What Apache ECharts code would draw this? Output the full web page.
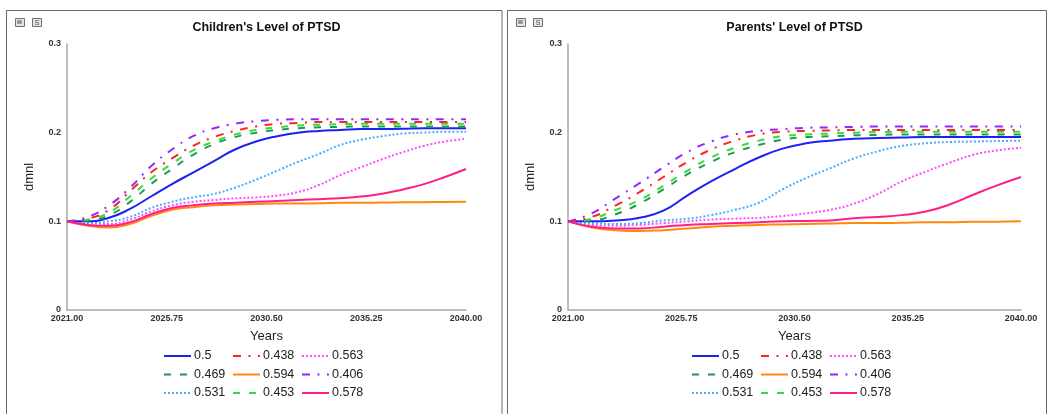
<!DOCTYPE html>
<html>
<head>
<meta charset="utf-8">
<script src="https://cdn.jsdelivr.net/npm/echarts@6/dist/echarts.min.js"></script>
<style>
html,body{margin:0;padding:0;background:#fff;}
#chart{width:1049px;height:414px;}
</style>
</head>
<body>
<div id="chart"></div>
<script>
// ---------- data ----------
const years = [2021,2022,2023,2024,2025,2026,2027,2028,2029,2030,2031,2032,2033,2034,2035,2036,2037,2038,2039,2040];
const xTickLabels = ['2021.00','2025.75','2030.50','2035.25','2040.00'];
const yTickLabels = ['0','0.1','0.2','0.3'];
const runNames = ['0.5','0.469','0.531','0.438','0.594','0.453','0.563','0.406','0.578'];

// Children's Level of PTSD
const child_05   = [0.100,0.100,0.104,0.114,0.128,0.142,0.155,0.168,0.181,0.190,0.196,0.200,0.202,0.203,0.204,0.204,0.2045,0.205,0.205,0.205];
const child_0469 = [0.100,0.101,0.107,0.122,0.142,0.159,0.175,0.187,0.195,0.200,0.203,0.205,0.206,0.2065,0.207,0.207,0.207,0.207,0.207,0.207];
const child_0531 = [0.100,0.0985,0.100,0.105,0.115,0.122,0.127,0.131,0.138,0.147,0.157,0.167,0.176,0.186,0.192,0.196,0.199,0.200,0.201,0.201];
const child_0438 = [0.100,0.103,0.113,0.134,0.155,0.171,0.185,0.195,0.202,0.207,0.210,0.211,0.212,0.212,0.212,0.212,0.212,0.212,0.212,0.212];
const child_0594 = [0.100,0.095,0.093,0.097,0.106,0.113,0.116,0.118,0.119,0.1195,0.120,0.120,0.1205,0.121,0.121,0.1212,0.1214,0.1216,0.1218,0.122];
const child_0453 = [0.100,0.102,0.110,0.128,0.148,0.165,0.180,0.190,0.198,0.203,0.206,0.208,0.209,0.2095,0.210,0.210,0.210,0.210,0.210,0.210];
const child_0563 = [0.100,0.098,0.097,0.102,0.111,0.118,0.122,0.124,0.126,0.127,0.129,0.133,0.141,0.152,0.161,0.170,0.178,0.185,0.190,0.193];
const child_0406 = [0.100,0.105,0.118,0.138,0.162,0.181,0.196,0.205,0.210,0.213,0.2145,0.215,0.215,0.215,0.215,0.215,0.215,0.215,0.215,0.215];
const child_0578 = [0.100,0.096,0.095,0.099,0.108,0.115,0.118,0.120,0.121,0.122,0.123,0.124,0.125,0.126,0.128,0.131,0.136,0.142,0.150,0.159];

// Parents' Level of PTSD
const parent_05   = [0.100,0.100,0.101,0.104,0.112,0.129,0.145,0.159,0.172,0.182,0.188,0.191,0.193,0.194,0.1945,0.195,0.195,0.195,0.195,0.195];
const parent_0469 = [0.100,0.101,0.108,0.120,0.136,0.153,0.167,0.178,0.186,0.192,0.195,0.196,0.197,0.1975,0.198,0.198,0.198,0.198,0.198,0.198];
const parent_0531 = [0.100,0.098,0.097,0.098,0.101,0.103,0.107,0.113,0.121,0.136,0.149,0.160,0.171,0.179,0.185,0.188,0.1895,0.190,0.1905,0.191];
const parent_0438 = [0.100,0.105,0.118,0.133,0.150,0.167,0.181,0.191,0.198,0.201,0.202,0.2025,0.203,0.203,0.203,0.203,0.203,0.203,0.203,0.203];
const parent_0594 = [0.100,0.093,0.090,0.089,0.090,0.092,0.094,0.095,0.096,0.0965,0.097,0.0975,0.098,0.098,0.0985,0.099,0.099,0.0995,0.0995,0.100];
const parent_0453 = [0.100,0.103,0.113,0.124,0.140,0.157,0.172,0.183,0.191,0.196,0.198,0.199,0.200,0.2005,0.201,0.201,0.201,0.201,0.201,0.201];
const parent_0563 = [0.100,0.096,0.095,0.096,0.098,0.100,0.102,0.103,0.104,0.106,0.109,0.113,0.120,0.131,0.145,0.156,0.166,0.175,0.180,0.183];
const parent_0406 = [0.100,0.109,0.126,0.143,0.161,0.178,0.190,0.198,0.202,0.204,0.2055,0.206,0.2065,0.207,0.207,0.207,0.207,0.207,0.207,0.207];
const parent_0578 = [0.100,0.094,0.092,0.092,0.094,0.096,0.097,0.098,0.099,0.100,0.1005,0.101,0.1035,0.105,0.107,0.111,0.119,0.130,0.1405,0.150];

// ---------- build ----------
const childData = {'0.5':child_05,'0.469':child_0469,'0.531':child_0531,'0.438':child_0438,'0.594':child_0594,'0.453':child_0453,'0.563':child_0563,'0.406':child_0406,'0.578':child_0578};
const parentData = {'0.5':parent_05,'0.469':parent_0469,'0.531':parent_0531,'0.438':parent_0438,'0.594':parent_0594,'0.453':parent_0453,'0.563':parent_0563,'0.406':parent_0406,'0.578':parent_0578};

const FONT = '"Liberation Sans", Arial, sans-serif';
const styles = {
  '0.5':   {color:'#1e22f0', type:'solid'},
  '0.469': {color:'#1f9a55', type:[7,9]},
  '0.531': {color:'#4aaeff', type:[2,2]},
  '0.438': {color:'#ff2222', type:[8,7.5,2,7.5]},
  '0.594': {color:'#ff8a10', type:'solid'},
  '0.453': {color:'#36dd36', type:[7,9]},
  '0.563': {color:'#ff4dff', type:[2,2]},
  '0.406': {color:'#9626ff', type:[8,7.5,2,7.5]},
  '0.578': {color:'#ff1f86', type:'solid'}
};
const drawOrder = ['0.594','0.563','0.531','0.5','0.469','0.453','0.438','0.406','0.578'];

function makeSeries(dataMap, gi) {
  return drawOrder.map(n => ({
    name: n, type: 'line', xAxisIndex: gi, yAxisIndex: gi,
    symbol: 'none', smooth: 0.5, animation: false,
    color: styles[n].color,
    lineStyle: {color: styles[n].color, width: 2, type: styles[n].type},
    data: years.map((y, i) => [y - years[0], dataMap[n][i]])
  }));
}

const grids = [
  {left: 67, right: 1049 - 466, top: 44, bottom: 414 - 310},
  {left: 568, right: 1049 - 1021, top: 44, bottom: 414 - 310}
];

function xAxis(gi) {
  return {
    type: 'value', gridIndex: gi, min: 0, max: years[years.length-1] - years[0], interval: 4.75,
    name: 'Years', nameLocation: 'middle', nameGap: 20,
    nameTextStyle: {fontFamily: FONT, fontSize: 13, color: '#222'},
    axisLine: {show: true, onZero: false, lineStyle: {color: '#a8a8a8', width: 1.5}},
    axisTick: {show: false}, splitLine: {show: false},
    axisLabel: {fontFamily: FONT, fontSize: 9, fontWeight: 'bold', color: '#333', margin: 4,
      showMinLabel: true, showMaxLabel: true,
      formatter: (v, idx) => xTickLabels[idx]}
  };
}
function yAxis(gi) {
  return {
    type: 'value', gridIndex: gi, min: 0, max: 0.3, interval: 0.1,
    name: 'dmnl', nameLocation: 'middle', nameGap: 31,
    nameTextStyle: {fontFamily: FONT, fontSize: 13, color: '#222'},
    axisLine: {show: true, lineStyle: {color: '#a8a8a8', width: 1.5}},
    axisTick: {show: false}, splitLine: {show: false},
    axisLabel: {fontFamily: FONT, fontSize: 9, fontWeight: 'bold', color: '#333', margin: 6,
      formatter: (v, idx) => yTickLabels[idx]}
  };
}

const legendCols = [
  ['0.5','0.469','0.531'],
  ['0.438','0.594','0.453'],
  ['0.563','0.406','0.578']
];
function legend(left, names) {
  return {
    orient: 'vertical', left: left, top: 349.5, padding: 0,
    itemWidth: 27, itemHeight: 14, itemGap: 5.5, selectedMode: false,
    itemStyle: {opacity: 0},
    textStyle: {fontFamily: FONT, fontSize: 12.5, color: '#222', padding: [0,0,0,-2]},
    data: names
  };
}
const legends = [];
[163, 232, 301].forEach((l, i) => legends.push(legend(l, legendCols[i])));
[691, 760, 829].forEach((l, i) => legends.push(legend(l, legendCols[i])));

function iconPair(x0) {
  return [
    {type:'rect', shape:{x:x0+0.5, y:18.5, width:9, height:8}, style:{fill:'#e6e6e6', stroke:'#707070', lineWidth:1}},
    {type:'rect', shape:{x:x0+2.5, y:20.5, width:4, height:3}, style:{fill:'#9a9a9a', stroke:'#707070', lineWidth:0.5}},
    {type:'rect', shape:{x:x0+17.5, y:18.5, width:9, height:8}, style:{fill:'#e6e6e6', stroke:'#707070', lineWidth:1}},
    {type:'text', x:x0+22, y:23, style:{text:'S', font:'7px ' + FONT, fill:'#444', align:'center', verticalAlign:'middle'}}
  ];
}

const graphics = [
  {type:'rect', shape:{x:6.5, y:10.5, width:495.5, height:420}, style:{fill:'none', stroke:'#6a6a6a', lineWidth:1}},
  {type:'rect', shape:{x:507.5, y:10.5, width:539, height:420}, style:{fill:'none', stroke:'#6a6a6a', lineWidth:1}},
  ...iconPair(15),
  ...iconPair(516),
  {type:'text', x:266.5, y:28, style:{text:"Children's Level of PTSD", font:'bold 12.5px ' + FONT, fill:'#111', align:'center', verticalAlign:'middle'}},
  {type:'text', x:794.5, y:28, style:{text:"Parents' Level of PTSD", font:'bold 12.5px ' + FONT, fill:'#111', align:'center', verticalAlign:'middle'}}
];

const chart = echarts.init(document.getElementById('chart'), null, {renderer: 'canvas'});
chart.setOption({
  backgroundColor: '#fff',
  animation: false,
  grid: grids,
  xAxis: [xAxis(0), xAxis(1)],
  yAxis: [yAxis(0), yAxis(1)],
  legend: legends,
  graphic: graphics,
  series: [...makeSeries(childData, 0), ...makeSeries(parentData, 1)]
});
</script>
</body>
</html>
